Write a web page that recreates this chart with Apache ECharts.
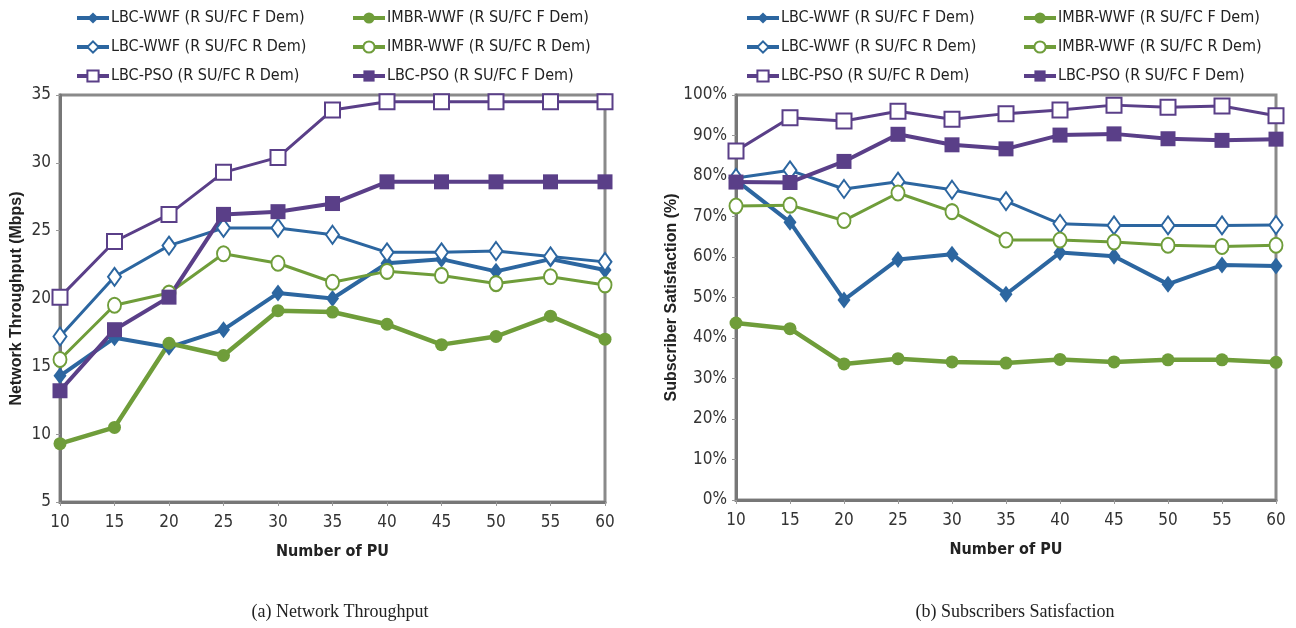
<!DOCTYPE html>
<html>
<head>
<meta charset="utf-8">
<script src="https://cdn.jsdelivr.net/npm/echarts@6/dist/echarts.min.js"></script>
<style>
html,body{margin:0;padding:0;background:#fff;}
#chart{width:1296px;height:628px;}
</style>
</head>
<body>
<div id="chart"></div>
<script>
// ---- data ----
var categories = ['10','15','20','25','30','35','40','45','50','55','60'];
var seriesNames = [
  'LBC-WWF (R SU/FC F Dem)',
  'LBC-WWF (R SU/FC R Dem)',
  'LBC-PSO (R SU/FC R Dem)',
  'IMBR-WWF (R SU/FC F Dem)',
  'IMBR-WWF (R SU/FC R Dem)',
  'LBC-PSO (R SU/FC F Dem)'
];
var throughputTicks = [5, 35, 5];      // min, max, interval
var satisfactionTicks = [0, 100, 10];  // min, max, interval (%)

// (a) Network Throughput (Mbps)
var tpLbcWwfF = [14.3, 17.1, 16.4, 17.7, 20.4, 20.0, 22.6, 22.9, 22.0, 22.9, 22.1];
var tpLbcWwfR = [17.2, 21.6, 23.9, 25.2, 25.2, 24.7, 23.4, 23.4, 23.5, 23.1, 22.7];
var tpLbcPsoR = [20.1, 24.2, 26.2, 29.3, 30.4, 33.9, 34.5, 34.5, 34.5, 34.5, 34.5];
var tpImbrF   = [9.3, 10.5, 16.7, 15.8, 19.1, 19.0, 18.1, 16.6, 17.2, 18.7, 17.0];
var tpImbrR   = [15.5, 19.5, 20.4, 23.3, 22.6, 21.2, 22.0, 21.7, 21.1, 21.6, 21.0];
var tpLbcPsoF = [13.2, 17.7, 20.1, 26.2, 26.4, 27.0, 28.6, 28.6, 28.6, 28.6, 28.6];

// (b) Subscribers Satisfaction (%)
var ssLbcWwfF = [79.0, 68.6, 49.4, 59.4, 60.7, 50.8, 61.1, 60.2, 53.3, 58.0, 57.8];
var ssLbcWwfR = [79.5, 81.4, 76.8, 78.6, 76.6, 73.8, 68.2, 67.8, 67.8, 67.8, 67.9];
var ssLbcPsoR = [86.2, 94.4, 93.6, 96.0, 94.0, 95.4, 96.3, 97.5, 97.0, 97.3, 94.9];
var ssImbrF   = [43.7, 42.3, 33.6, 34.9, 34.1, 33.8, 34.7, 34.1, 34.6, 34.6, 34.0];
var ssImbrR   = [72.6, 72.8, 69.0, 75.8, 71.2, 64.2, 64.2, 63.7, 62.9, 62.6, 62.9];
var ssLbcPsoF = [78.5, 78.4, 83.6, 90.3, 87.7, 86.7, 90.1, 90.4, 89.2, 88.8, 89.1];

// ---- styles ----
var BLUE = '#2c66a0', GREEN = '#6f9d3a', PURPLE = '#5a3f88';
var NARROW = "'Liberation Sans Narrow','DejaVu Sans Condensed','Liberation Sans',sans-serif";
var styles = [
  {color: BLUE,   w: 4,   sym: 'diamond',      size: [13, 17]},
  {color: BLUE,   w: 3,   sym: 'emptyDiamond', size: [13, 18]},
  {color: PURPLE, w: 3,   sym: 'emptyRect',    size: 15},
  {color: GREEN,  w: 4.5, sym: 'circle',       size: 13},
  {color: GREEN,  w: 3,   sym: 'emptyCircle',  size: [13, 15]},
  {color: PURPLE, w: 4,   sym: 'rect',         size: 15}
];
var tpData = [tpLbcWwfF, tpLbcWwfR, tpLbcPsoR, tpImbrF, tpImbrR, tpLbcPsoF];
var ssData = [ssLbcWwfF, ssLbcWwfR, ssLbcPsoR, ssImbrF, ssImbrR, ssLbcPsoF];

function makeSeries(dataSets, idx) {
  return dataSets.map(function (d, i) {
    var s = styles[i];
    return {
      name: seriesNames[i], type: 'line', xAxisIndex: idx, yAxisIndex: idx,
      data: d, symbol: s.sym, symbolSize: s.size, showAllSymbol: true,
      lineStyle: {color: s.color, width: s.w},
      itemStyle: {color: s.color, borderColor: s.color, borderWidth: s.sym.indexOf('empty') === 0 ? 2 : 0},
      emphasis: {disabled: true}, animation: false
    };
  });
}

function legend(left, names) {
  return {
    orient: 'vertical', left: left, top: 5, itemWidth: 32, itemHeight: 14, itemGap: 13,
    data: names, selectedMode: false,
    lineStyle: {width: 4},
    textStyle: {fontFamily: NARROW, fontSize: 16, color: '#222', padding: [0, 0, 0, -3]}
  };
}

var axisLabelStyle = {fontFamily: NARROW, fontSize: 17, color: '#333'};

var option = {
  backgroundColor: '#fff',
  animation: false,
  title: [
    {text: '(a) Network Throughput', left: 335, top: 598, textAlign: 'center',
     textStyle: {fontFamily: "'Liberation Serif','DejaVu Serif',serif", fontWeight: 'normal', fontSize: 18, color: '#222'}},
    {text: '(b) Subscribers Satisfaction', left: 1010, top: 598, textAlign: 'center',
     textStyle: {fontFamily: "'Liberation Serif','DejaVu Serif',serif", fontWeight: 'normal', fontSize: 18, color: '#222'}}
  ],
  legend: [
    legend(70, seriesNames.slice(0, 3)),
    legend(346, seriesNames.slice(3)),
    legend(740, seriesNames.slice(0, 3)),
    legend(1017, seriesNames.slice(3))
  ],
  grid: [
    {left: 60, right: 691, top: 95, bottom: 126, show: true, borderColor: '#8a8a8a', borderWidth: 3, backgroundColor: '#fff'},
    {left: 736, right: 20, top: 95, bottom: 128, show: true, borderColor: '#8a8a8a', borderWidth: 3, backgroundColor: '#fff'}
  ],
  xAxis: [0, 1].map(function (i) {
    return {
      type: 'category', gridIndex: i, data: categories, boundaryGap: false,
      name: 'Number of PU', nameLocation: 'middle', nameGap: 42,
      nameTextStyle: {fontFamily: NARROW, fontWeight: 'bold', fontSize: 16, color: '#222'},
      axisLine: {lineStyle: {color: '#777', width: 3}},
      axisTick: {show: true, length: 4, alignWithLabel: true, lineStyle: {color: '#999'}},
      axisLabel: Object.assign({margin: 12}, axisLabelStyle),
      splitLine: {show: false}
    };
  }),
  yAxis: [
    {type: 'value', gridIndex: 0, min: throughputTicks[0], max: throughputTicks[1], interval: throughputTicks[2],
     name: 'Network Throughput (Mbps)', nameLocation: 'middle', nameGap: 35,
     nameTextStyle: {fontFamily: "'Liberation Sans',Arial,sans-serif", fontWeight: 'bold', fontSize: 16, color: '#222'},
     axisLine: {show: true, lineStyle: {color: '#777', width: 3}},
     axisTick: {show: true, length: 4, lineStyle: {color: '#999'}},
     axisLabel: Object.assign({margin: 9}, axisLabelStyle),
     splitLine: {show: false}},
    {type: 'value', gridIndex: 1, min: satisfactionTicks[0], max: satisfactionTicks[1], interval: satisfactionTicks[2],
     name: 'Subscriber Satisfaction (%)', nameLocation: 'middle', nameGap: 46,
     nameTextStyle: {fontFamily: "'Liberation Sans',Arial,sans-serif", fontWeight: 'bold', fontSize: 16, color: '#222'},
     axisLine: {show: true, lineStyle: {color: '#777', width: 3}},
     axisTick: {show: true, length: 4, lineStyle: {color: '#999'}},
     axisLabel: Object.assign({margin: 9, formatter: '{value}%'}, axisLabelStyle),
     splitLine: {show: false}}
  ],
  series: makeSeries(tpData, 0).concat(makeSeries(ssData, 1))
};

var chart = echarts.init(document.getElementById('chart'), null, {renderer: 'canvas'});
chart.setOption(option);
</script>
</body>
</html>
